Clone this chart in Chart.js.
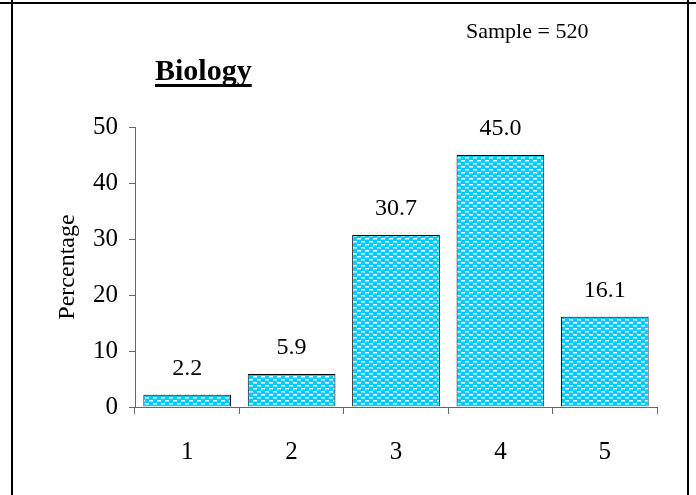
<!DOCTYPE html>
<html lang="en">
<head>
  <meta charset="UTF-8" />
  <title>Biology</title>
  <script src="https://cdn.jsdelivr.net/npm/chart.js"></script>
  <style>
    body { margin: 0; background: #fff; }
    .wrap { width: 696px; height: 495px; position: relative; }
  </style>
</head>
<body>
  <div class="wrap">
    <canvas id="bioChart" width="696" height="495"></canvas>
  </div>

  <script>
  const categories = ['1', '2', '3', '4', '5'];
  const percentages = [2.2, 5.9, 30.7, 45.0, 16.1];
  const yTicks = [0, 10, 20, 30, 40, 50];
  const chartTitle = 'Biology';
  const sampleText = 'Sample = 520';

  const serif = '"Liberation Serif", "DejaVu Serif", serif';

  const canvas = document.getElementById('bioChart');
  const ctx = canvas.getContext('2d');

  // dotted cyan fill like the old excel pattern
  function makePattern() {
    const p = document.createElement('canvas');
    p.width = 8;
    p.height = 6;
    const c = p.getContext('2d');
    c.fillStyle = '#00ccff';
    c.fillRect(0, 0, 8, 6);
    c.fillStyle = '#f0fcff';
    c.fillRect(1, 1, 4, 1);
    c.fillRect(5, 4, 3, 1);
    c.fillRect(0, 4, 1, 1);
    c.fillStyle = '#8ae6ff';
    c.fillRect(1, 2, 4, 1);
    c.fillRect(5, 5, 3, 1);
    c.fillRect(0, 5, 1, 1);
    return ctx.createPattern(p, 'repeat');
  }

  const decorations = {
    id: 'decorations',
    afterDraw(chart) {
      const c = chart.ctx;
      c.save();
      // frame
      c.strokeStyle = '#000';
      c.lineWidth = 2;
      c.beginPath();
      c.moveTo(0, 3); c.lineTo(696, 3);
      c.moveTo(12, 0); c.lineTo(12, 495);
      c.moveTo(688, 0); c.lineTo(688, 495);
      c.stroke();

      // title
      c.fillStyle = '#000';
      c.textBaseline = 'alphabetic';
      c.textAlign = 'left';
      c.font = 'bold 30px ' + serif;
      c.fillText(chartTitle, 155, 80);
      const w = c.measureText(chartTitle).width;
      c.fillRect(155, 84, w, 3);

      c.font = '22px ' + serif;
      c.fillText(sampleText, 466, 38);

      // value labels
      c.font = '24px ' + serif;
      c.textAlign = 'center';
      c.textBaseline = 'middle';
      const meta = chart.getDatasetMeta(0);
      meta.data.forEach((bar, i) => {
        c.fillText(percentages[i].toFixed(1), bar.x, bar.y - 26);
      });
      c.restore();
    }
  };

  new Chart(ctx, {
    type: 'bar',
    data: {
      labels: categories,
      datasets: [{
        data: percentages,
        backgroundColor: makePattern(),
        borderColor: '#000',
        borderWidth: 1,
        barPercentage: 0.84,
        categoryPercentage: 1
      }]
    },
    options: {
      responsive: false,
      animation: false,
      layout: { padding: { top: 127, right: 39, bottom: 0, left: 40 } },
      plugins: {
        legend: { display: false },
        tooltip: { enabled: false }
      },
      scales: {
        x: {
          afterFit(s) { s.height = 88; },
          grid: { drawOnChartArea: false, color: '#666', tickLength: 7, offset: true },
          border: { color: '#666', width: 1 },
          ticks: { color: '#000', padding: 23, font: { family: serif, size: 25 } }
        },
        y: {
          min: 0,
          max: 50,
          afterFit(s) { s.width = 95; },
          afterBuildTicks(s) { s.ticks = yTicks.map(v => ({ value: v })); },
          grid: { drawOnChartArea: false, color: '#666', tickLength: 6 },
          border: { color: '#666', width: 1 },
          ticks: { color: '#000', padding: 11, font: { family: serif, size: 25 } },
          title: {
            display: true,
            text: 'Percentage',
            color: '#000',
            padding: { top: 13, bottom: 0 },
            font: { family: serif, size: 24 }
          }
        }
      }
    },
    plugins: [decorations]
  });
</script>
</body>
</html>
